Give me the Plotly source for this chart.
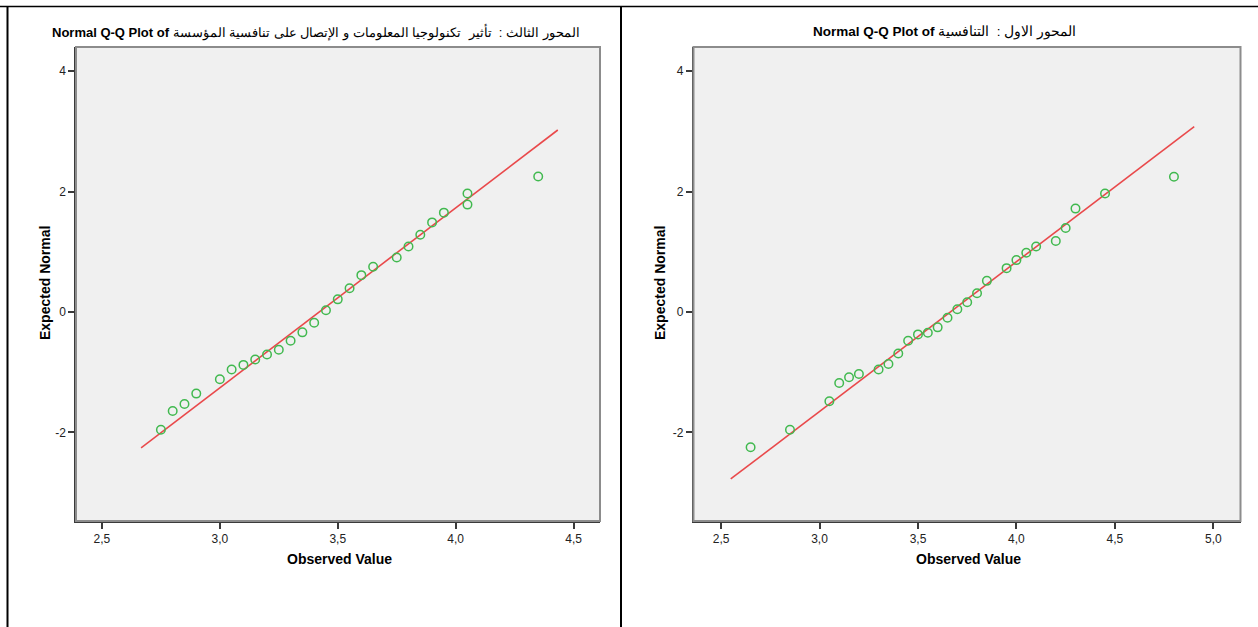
import plotly.graph_objects as go

# ---------------- data ----------------
left_observed = [2.75, 2.80, 2.85, 2.90, 3.00, 3.05, 3.10, 3.15, 3.20, 3.25, 3.30, 3.35, 3.40,
                 3.45, 3.50, 3.55, 3.60, 3.65, 3.75, 3.80, 3.85, 3.90, 3.95, 4.05, 4.05, 4.35]
left_expected = [-1.955, -1.645, -1.528, -1.355, -1.117, -0.955, -0.878, -0.788, -0.705, -0.628,
                 -0.478, -0.338, -0.178, 0.028, 0.21, 0.395, 0.612, 0.75, 0.905, 1.088, 1.283,
                 1.488, 1.65, 1.967, 1.783, 2.25]
left_line_x = [2.666, 4.433]
left_line_y = [-2.255, 3.022]

right_observed = [2.65, 2.85, 3.05, 3.10, 3.15, 3.20, 3.30, 3.35, 3.40, 3.45, 3.50, 3.55, 3.60,
                  3.65, 3.70, 3.75, 3.80, 3.85, 3.95, 4.00, 4.05, 4.10, 4.20, 4.25, 4.30, 4.45, 4.80]
right_expected = [-2.245, -1.955, -1.483, -1.178, -1.083, -1.028, -0.955, -0.862, -0.688, -0.478,
                  -0.372, -0.345, -0.255, -0.095, 0.045, 0.162, 0.312, 0.517, 0.728, 0.862, 0.983,
                  1.088, 1.178, 1.395, 1.717, 1.967, 2.245]
right_line_x = [2.549, 4.903]
right_line_y = [-2.772, 3.078]

left_xticks = [2.5, 3.0, 3.5, 4.0, 4.5]
left_xlabels = ["2,5", "3,0", "3,5", "4,0", "4,5"]
right_xticks = [2.5, 3.0, 3.5, 4.0, 4.5, 5.0]
right_xlabels = ["2,5", "3,0", "3,5", "4,0", "4,5", "5,0"]
yticks = [-2, 0, 2, 4]
ylabels = ["-2", "0", "2", "4"]

left_title = "<b>Normal Q-Q Plot of</b> المحور الثالث :  تأثير  تكنولوجيا المعلومات و الإتصال على تنافسية المؤسسة"
right_title = "<b>Normal Q-Q Plot of</b> المحور الاول :  التنافسية"

# ---------------- figure ----------------
W, H = 1258, 627
GREEN = "#41b94f"
RED = "#e9494b"
FONT = "Liberation Sans, Arial, sans-serif"

fig = go.Figure()

def px_x(p):
    return p / W

def px_y(p):
    return 1 - p / H

fig.add_trace(go.Scatter(x=left_line_x, y=left_line_y, mode="lines",
                         line=dict(color=RED, width=1.6), xaxis="x", yaxis="y",
                         showlegend=False, hoverinfo="skip"))
fig.add_trace(go.Scatter(x=left_observed, y=left_expected, mode="markers",
                         marker=dict(symbol="circle-open", size=8.5, color=GREEN,
                                     line=dict(width=1.5, color=GREEN)),
                         xaxis="x", yaxis="y", showlegend=False))
fig.add_trace(go.Scatter(x=right_line_x, y=right_line_y, mode="lines",
                         line=dict(color=RED, width=1.6), xaxis="x2", yaxis="y2",
                         showlegend=False, hoverinfo="skip"))
fig.add_trace(go.Scatter(x=right_observed, y=right_expected, mode="markers",
                         marker=dict(symbol="circle-open", size=8.5, color=GREEN,
                                     line=dict(width=1.5, color=GREEN)),
                         xaxis="x2", yaxis="y2", showlegend=False))

plot_top, plot_bottom = 47, 521
ydom = [px_y(plot_bottom), px_y(plot_top)]

axis_common = dict(showgrid=False, zeroline=False, showline=True, linecolor="#3a3a3a",
                   linewidth=1.5, ticks="outside", ticklen=6, tickwidth=1.5,
                   tickcolor="#3a3a3a",
                   tickfont=dict(family="Liberation Sans Narrow, Liberation Sans, Arial", size=12,
                                 color="#222222"))

fig.update_layout(
    width=W, height=H,
    margin=dict(l=0, r=0, t=0, b=0),
    paper_bgcolor="white",
    plot_bgcolor="#f0f0f0",
    font=dict(family=FONT, color="black"),
    xaxis=dict(domain=[px_x(76), px_x(600)], range=[2.39, 4.612], tickvals=left_xticks,
               ticktext=left_xlabels, anchor="y", **axis_common),
    yaxis=dict(domain=ydom, range=[-3.47, 4.40], tickvals=yticks, ticktext=ylabels,
               anchor="x", **axis_common),
    xaxis2=dict(domain=[px_x(693.5), px_x(1240.5)], range=[2.36, 5.138], tickvals=right_xticks,
                ticktext=right_xlabels, anchor="y2", **axis_common),
    yaxis2=dict(domain=ydom, range=[-3.47, 4.40], tickvals=yticks, ticktext=ylabels,
                anchor="x2", **axis_common),
)

shapes = []
for xr, yr in (("x domain", "y domain"), ("x2 domain", "y2 domain")):
    shapes.append(dict(type="rect", xref=xr, yref=yr, x0=0, x1=1, y0=0, y1=1,
                       line=dict(color="#8c8c8c", width=2), layer="above"))
shapes.append(dict(type="line", xref="paper", yref="paper", x0=0, x1=1,
                   y0=px_y(6.5), y1=px_y(6.5), line=dict(color="black", width=1.5)))
shapes.append(dict(type="line", xref="paper", yref="paper", x0=px_x(7.5), x1=px_x(7.5),
                   y0=0, y1=px_y(6), line=dict(color="black", width=2)))
shapes.append(dict(type="line", xref="paper", yref="paper", x0=px_x(621), x1=px_x(621),
                   y0=0, y1=px_y(6), line=dict(color="black", width=2)))
fig.update_layout(shapes=shapes)

ann = []
ann.append(dict(text=left_title, x=px_x(316), y=px_y(32), xref="paper", yref="paper",
                showarrow=False, font=dict(size=13, family=FONT, color="black"),
                xanchor="center", yanchor="middle"))
ann.append(dict(text=right_title, x=px_x(944), y=px_y(32), xref="paper", yref="paper",
                showarrow=False, font=dict(size=13.5, family=FONT, color="black"),
                xanchor="center", yanchor="middle"))
for cx in (339, 968):
    ann.append(dict(text="<b>Observed Value</b>", x=px_x(cx), y=px_y(559), xref="paper",
                    yref="paper", showarrow=False, font=dict(size=14, family=FONT),
                    xanchor="center", yanchor="middle"))
for cx in (45, 660):
    ann.append(dict(text="<b>Expected Normal</b>", x=px_x(cx), y=px_y(283), xref="paper",
                    yref="paper", showarrow=False, textangle=-90,
                    font=dict(size=14, family=FONT), xanchor="center", yanchor="middle"))
fig.update_layout(annotations=ann)

fig.write_html("out.html", config={"displayModeBar": False},
               post_script="document.body.style.margin='0';document.body.style.overflow='hidden';")
